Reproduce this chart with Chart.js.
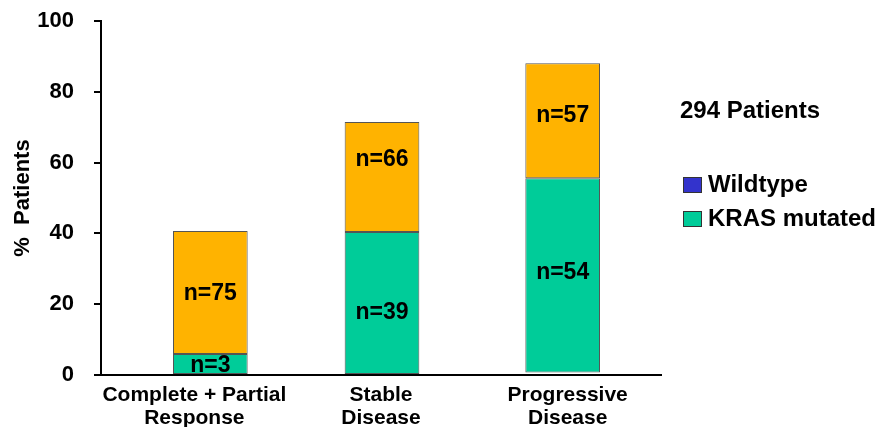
<!DOCTYPE html>
<html>
<head>
<meta charset="utf-8">
<script src="https://cdn.jsdelivr.net/npm/chart.js@4"></script>
<style>
  html, body { margin: 0; padding: 0; background: #fff; }
  #wrap { width: 878px; height: 427px; }
</style>
</head>
<body>
<div id="wrap"><canvas id="chart" width="878" height="427"></canvas></div>
<script>
const categories = [['Complete + Partial', 'Response'], ['Stable', 'Disease'], ['Progressive', 'Disease']];
// percent of patients, bars run from base to top
const mutatedBase = [0, 0, 0.7];
const mutatedTop = [5.9, 40.4, 55.6];
const wildTop = [40.7, 71.5, 88.1];
const mutatedN = [3, 39, 54];
const wildN = [75, 66, 57];
const yTicks = [0, 20, 40, 60, 80, 100];
const totalLabel = '294 Patients';
const legendItems = [
  { text: 'Wildtype', color: '#3333cc' },
  { text: 'KRAS mutated', color: '#00cc99' }
];

const font = 'Liberation Sans, Arial, sans-serif';

const dataset = [
  {
    label: 'KRAS mutated',
    data: mutatedBase.map((b, i) => [b, mutatedTop[i]]),
    counts: mutatedN,
    labelNudge: [1, 9, -4],
    backgroundColor: '#00cc99'
  },
  {
    label: 'Wildtype',
    data: mutatedTop.map((b, i) => [b, wildTop[i]]),
    counts: wildN,
    labelNudge: [0, -18, -6],
    backgroundColor: '#ffb300'
  }
];
dataset.forEach(d => {
  d.borderColor = '#555';
  d.borderWidth = 1;
  d.borderSkipped = false;
  d.grouped = false;
  d.barPercentage = 0.4;
  d.categoryPercentage = 1.0;
});

// bars are not quite centred under their labels
const barShift = {
  id: 'barShift',
  afterDatasetsUpdate(chart, args, opts) {
    chart.data.datasets.forEach((d, di) => {
      chart.getDatasetMeta(di).data.forEach((el, i) => { el.x += opts.dx[i]; });
    });
  }
};

// n=.. labels inside each segment
const countLabels = {
  id: 'countLabels',
  afterDatasetsDraw(chart) {
    const ctx = chart.ctx;
    ctx.save();
    ctx.font = `bold 23px ${font}`;
    ctx.fillStyle = '#000';
    ctx.textAlign = 'center';
    ctx.textBaseline = 'middle';
    chart.data.datasets.forEach((d, di) => {
      chart.getDatasetMeta(di).data.forEach((el, i) => {
        ctx.fillText('n=' + d.counts[i], el.x, (el.y + el.base) / 2 + 1 + d.labelNudge[i]);
      });
    });
    ctx.restore();
  }
};

// patient total and legend on the right
const sideLegend = {
  id: 'sideLegend',
  afterDraw(chart) {
    const ctx = chart.ctx;
    ctx.save();
    ctx.font = `bold 24px ${font}`;
    ctx.fillStyle = '#000';
    ctx.textAlign = 'left';
    ctx.textBaseline = 'middle';
    ctx.fillText(totalLabel, 680, 111);
    legendItems.forEach((it, i) => {
      const y = 185 + i * 34;
      ctx.fillStyle = it.color;
      ctx.fillRect(683, y - 8, 18, 15);
      ctx.strokeStyle = '#333';
      ctx.lineWidth = 1;
      ctx.strokeRect(683.5, y - 7.5, 18, 15);
      ctx.fillStyle = '#000';
      ctx.fillText(it.text, 708, y);
    });
    ctx.restore();
  }
};

const myChart = new Chart(document.getElementById('chart'), {
  type: 'bar',
  data: { labels: categories, datasets: dataset },
  plugins: [barShift, countLabels, sideLegend],
  options: {
    responsive: false,
    animation: false,
    layout: { padding: { left: 0, top: 21, right: 217, bottom: 0 } },
    plugins: {
      legend: { display: false },
      tooltip: { enabled: false },
      barShift: { dx: [16, 1, -5] }
    },
    scales: {
      x: {
        grid: { display: false },
        border: { color: '#000', width: 2 },
        ticks: {
          color: '#000',
          padding: 0,
          maxRotation: 0,
          autoSkip: false,
          font: { family: font, size: 21, weight: 'bold', lineHeight: 1.12 }
        },
        afterFit: s => { s.height = 52; s.paddingLeft = 0; s.paddingRight = 0; }
      },
      y: {
        min: 0,
        max: 100,
        afterBuildTicks: s => { s.ticks = yTicks.map(v => ({ value: v })); },
        grid: { drawOnChartArea: false, drawTicks: true, tickLength: 7, color: '#000', lineWidth: 2 },
        border: { color: '#000', width: 2 },
        ticks: {
          color: '#000',
          padding: 20,
          font: { family: font, size: 22, weight: 'bold' }
        },
        title: {
          display: true,
          text: '%  Patients',
          color: '#000',
          padding: { top: 10, bottom: 0 },
          font: { family: font, size: 22, weight: 'bold' }
        },
        afterFit: s => { s.width = 101; s.paddingTop = 0; s.paddingBottom = 0; }
      }
    }
  }
});
</script>
</body>
</html>
